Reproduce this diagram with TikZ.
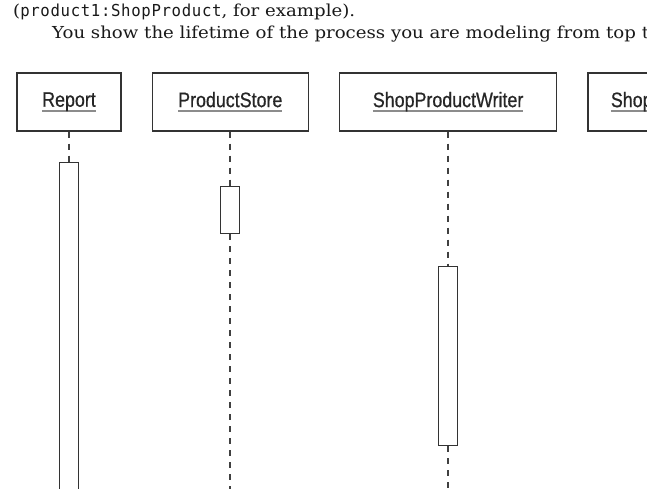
\documentclass[tikz,border=0pt]{standalone}
\usepackage{fontspec}
\setmainfont{DejaVu Serif}[FakeStretch=1.1]
\newfontfamily\lblfont[FakeStretch=0.85,FakeBold=0.6]{Liberation Sans}
\newfontfamily\codefont[LetterSpace=4,FakeStretch=0.95]{DejaVu Sans Mono}
\usetikzlibrary{positioning}
\newcommand{\objname}[1]{\setbox0\hbox{#1}\rlap{\color{black!45}\rule[-5pt]{\wd0}{1.8pt}}\box0}

\begin{document}
\begin{tikzpicture}[x=1pt,y=-1pt,
    node distance=30pt,
    obj/.style={draw=black!80,line width=1.3pt,minimum height=58pt,inner sep=0pt,
      font=\lblfont\fontsize{21}{21}\selectfont,text=black!85},
    act/.style={draw=black!80,line width=1.3pt,fill=white,minimum width=19pt,anchor=north,inner sep=0pt},
    life/.style={draw=black!75,line width=2pt,dash pattern=on 6pt off 6pt},
    prose/.style={anchor=base west,inner sep=0pt,font=\fontsize{16.5}{20}\selectfont,text=black!90}
]
\useasboundingbox (0,0) rectangle (647,488);
\clip (0,0) rectangle (647,488);

\node[prose] (line1) at (13,16) {({\codefont product1:ShopProduct}, for example).};
\node[prose] (line2) at (52,38) {You show the lifetime of the process you are modeling from top t};

\node[obj,minimum width=104pt] (report) at (69,102) {\objname{Report}};
\node[obj,minimum width=156pt,right=of report] (store) {\objname{ProductStore}};
\node[obj,minimum width=217pt,right=of store] (writer) {\objname{ShopProductWriter}};
\node[obj,minimum width=146pt,text width=100pt,align=left,right=of writer] (shop) {\objname{Shop}};

\node[act,minimum height=340pt] (ract) at (report.south |- 0,162) {};
\node[act,minimum height=47pt] (sact) at (store.south |- 0,186) {};
\node[act,minimum height=179pt] (wact) at (writer.south |- 0,266) {};

\coordinate (send) at (store.south |- 0,500);
\coordinate (wend) at (writer.south |- 0,500);

\draw[life] (report.south) -- (ract.north);
\draw[life] (store.south) -- (sact.north);
\draw[life] (sact.south) -- (send);
\draw[life] (writer.south) -- (wact.north);
\draw[life] (wact.south) -- (wend);

\end{tikzpicture}
\end{document}
